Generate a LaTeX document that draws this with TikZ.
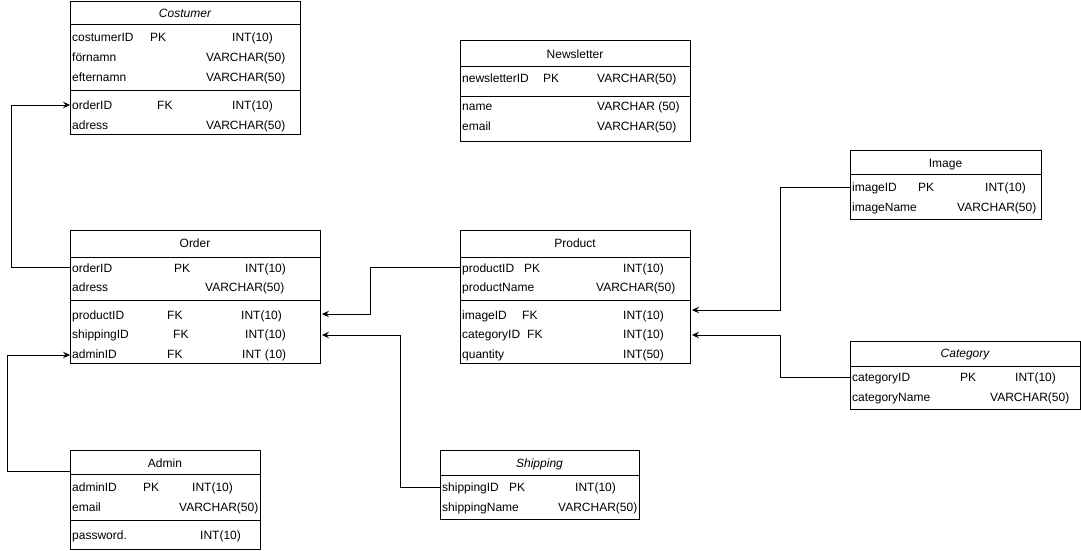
\documentclass[tikz,border=0pt]{standalone}
\usepackage{fontspec}
\setmainfont{Liberation Sans}
\usetikzlibrary{arrows.meta}
\tikzset{
  tbl/.style={draw, line width=1pt, anchor=north west, inner sep=0pt, fill=white},
  sepline/.style={line width=1pt},
  txt/.style={anchor=west, inner sep=0pt, text height=9pt, text depth=0pt, font=\fontsize{12}{14}\selectfont},
  ttl/.style={anchor=center, inner sep=0pt, text height=9pt, text depth=0pt, font=\fontsize{12}{14}\selectfont},
  ittl/.style={ttl, font=\fontsize{12}{14}\selectfont\itshape},
  conn/.style={line width=1pt, -{Stealth[length=7pt, width=6.5pt, inset=2.5pt]}},
}
\begin{document}
\begin{tikzpicture}[x=1pt, y=-1pt]
\useasboundingbox (0,0) rectangle (1081,551);

% ---------- Costumer ----------
\node[tbl, minimum width=230pt, minimum height=133pt] (costumer) at (70,1) {};
\draw[sepline] (70,25) -- (300,25);
\draw[sepline] (70,90) -- (300,90);
\node[ittl] (costumer-t) at (185,13) {Costumer};
\node[txt] (c1a) at (72,37) {costumerID};
\node[txt] (c1b) at (150,37) {PK};
\node[txt] (c1c) at (232,37) {INT(10)};
\node[txt] (c2a) at (72,57) {förnamn};
\node[txt] (c2c) at (206,57) {VARCHAR(50)};
\node[txt] (c3a) at (72,77) {efternamn};
\node[txt] (c3c) at (206,77) {VARCHAR(50)};
\node[txt] (c4a) at (72,105) {orderID};
\node[txt] (c4b) at (157,105) {FK};
\node[txt] (c4c) at (232,105) {INT(10)};
\node[txt] (c5a) at (72,125) {adress};
\node[txt] (c5c) at (206,125) {VARCHAR(50)};
\coordinate (cost-orderID) at (70,105);

% ---------- Newsletter ----------
\node[tbl, minimum width=230pt, minimum height=101pt] (newsletter) at (460,40) {};
\draw[sepline] (460,66.5) -- (690,66.5);
\draw[sepline] (460,96) -- (690,96);
\node[ttl] (newsletter-t) at (575,54) {Newsletter};
\node[txt] (n1a) at (462,78) {newsletterID};
\node[txt] (n1b) at (543,78) {PK};
\node[txt] (n1c) at (597,78) {VARCHAR(50)};
\node[txt] (n2a) at (462,106) {name};
\node[txt] (n2c) at (597,106) {VARCHAR (50)};
\node[txt] (n3a) at (462,126) {email};
\node[txt] (n3c) at (597,126) {VARCHAR(50)};

% ---------- Order ----------
\node[tbl, minimum width=250pt, minimum height=133pt] (order) at (70,230) {};
\draw[sepline] (70,257) -- (320,257);
\draw[sepline] (70,300) -- (320,300);
\node[ttl] (order-t) at (195,243) {Order};
\node[txt] (o1a) at (72,268) {orderID};
\node[txt] (o1b) at (174,268) {PK};
\node[txt] (o1c) at (245,268) {INT(10)};
\node[txt] (o2a) at (72,287) {adress};
\node[txt] (o2c) at (205,287) {VARCHAR(50)};
\node[txt] (o3a) at (72,315) {productID};
\node[txt] (o3b) at (167,315) {FK};
\node[txt] (o3c) at (241,315) {INT(10)};
\node[txt] (o4a) at (72,334) {shippingID};
\node[txt] (o4b) at (173,334) {FK};
\node[txt] (o4c) at (245,334) {INT(10)};
\node[txt] (o5a) at (72,354) {adminID};
\node[txt] (o5b) at (167,354) {FK};
\node[txt] (o5c) at (242,354) {INT (10)};
\coordinate (ord-orderID) at (70,267);
\coordinate (ord-productIn) at (322,314);
\coordinate (ord-shippingIn) at (322,335);
\coordinate (ord-adminID) at (70,355);

% ---------- Product ----------
\node[tbl, minimum width=230pt, minimum height=133pt] (product) at (460,230) {};
\draw[sepline] (460,257) -- (690,257);
\draw[sepline] (460,300) -- (690,300);
\node[ttl] (product-t) at (575,243) {Product};
\node[txt] (p1a) at (462,268) {productID};
\node[txt] (p1b) at (524,268) {PK};
\node[txt] (p1c) at (623,268) {INT(10)};
\node[txt] (p2a) at (462,287) {productName};
\node[txt] (p2c) at (596,287) {VARCHAR(50)};
\node[txt] (p3a) at (462,315) {imageID};
\node[txt] (p3b) at (522,315) {FK};
\node[txt] (p3c) at (623,315) {INT(10)};
\node[txt] (p4a) at (462,334) {categoryID};
\node[txt] (p4b) at (527,334) {FK};
\node[txt] (p4c) at (623,334) {INT(10)};
\node[txt] (p5a) at (462,354) {quantity};
\node[txt] (p5c) at (623,354) {INT(50)};
\coordinate (prod-productID) at (460,267);
\coordinate (prod-imageIn) at (692,310);
\coordinate (prod-categoryIn) at (692,335);

% ---------- Image ----------
\node[tbl, minimum width=191pt, minimum height=69pt] (image) at (850,150) {};
\draw[sepline] (850,174) -- (1041,174);
\node[ttl] (image-t) at (945.5,163) {Image};
\node[txt] (i1a) at (852,187) {imageID};
\node[txt] (i1b) at (918,187) {PK};
\node[txt] (i1c) at (985,187) {INT(10)};
\node[txt] (i2a) at (852,207) {imageName};
\node[txt] (i2c) at (957,207) {VARCHAR(50)};
\coordinate (img-imageID) at (850,187);

% ---------- Category ----------
\node[tbl, minimum width=230pt, minimum height=68pt] (category) at (850,341) {};
\draw[sepline] (850,366) -- (1080,366);
\node[ittl] (category-t) at (965,353) {Category};
\node[txt] (k1a) at (852,377) {categoryID};
\node[txt] (k1b) at (960,377) {PK};
\node[txt] (k1c) at (1015,377) {INT(10)};
\node[txt] (k2a) at (852,397) {categoryName};
\node[txt] (k2c) at (990,397) {VARCHAR(50)};
\coordinate (cat-categoryID) at (850,377);

% ---------- Admin ----------
\node[tbl, minimum width=190pt, minimum height=99pt] (admin) at (70,450) {};
\draw[sepline] (70,474) -- (260,474);
\draw[sepline] (70,520) -- (260,520);
\node[ttl] (admin-t) at (165,463) {Admin};
\node[txt] (a1a) at (72,487) {adminID};
\node[txt] (a1b) at (143,487) {PK};
\node[txt] (a1c) at (192,487) {INT(10)};
\node[txt] (a2a) at (72,507) {email};
\node[txt] (a2c) at (179,507) {VARCHAR(50)};
\node[txt] (a3a) at (72,535) {password.};
\node[txt] (a3c) at (200,535) {INT(10)};
\coordinate (adm-head) at (70,471);

% ---------- Shipping ----------
\node[tbl, minimum width=199pt, minimum height=69pt] (shipping) at (440,450) {};
\draw[sepline] (440,475) -- (639,475);
\node[ittl] (shipping-t) at (539.5,463) {Shipping};
\node[txt] (s1a) at (442,487) {shippingID};
\node[txt] (s1b) at (509,487) {PK};
\node[txt] (s1c) at (575,487) {INT(10)};
\node[txt] (s2a) at (442,507) {shippingName};
\node[txt] (s2c) at (558,507) {VARCHAR(50)};
\coordinate (ship-shippingID) at (440,487);

% ---------- Connectors ----------
\draw[conn] (ord-orderID) -- ++(-59,0) |- (cost-orderID);
\draw[conn] (prod-productID) -- ++(-90,0) |- (ord-productIn);
\draw[conn] (ship-shippingID) -- ++(-40,0) |- (ord-shippingIn);
\draw[conn] (adm-head) -- ++(-63,0) |- (ord-adminID);
\draw[conn] (img-imageID) -- ++(-70,0) |- (prod-imageIn);
\draw[conn] (cat-categoryID) -- ++(-70,0) |- (prod-categoryIn);
\end{tikzpicture}
\end{document}
